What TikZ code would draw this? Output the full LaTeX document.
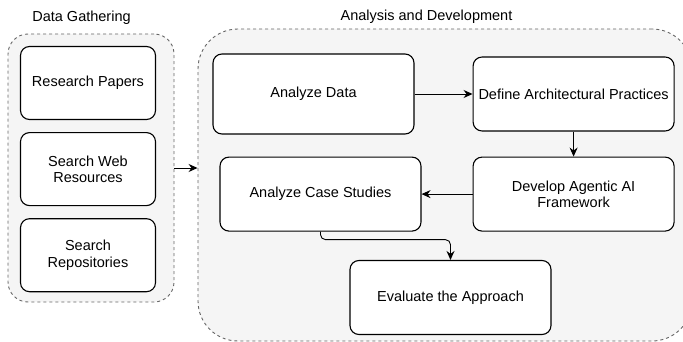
\documentclass[tikz,border=0pt]{standalone}
\usepackage{fontspec}
\setmainfont{Liberation Sans}
\usetikzlibrary{positioning, arrows.meta}
\definecolor{cGroup}{HTML}{F5F5F5}
\definecolor{cDash}{HTML}{666666}
\tikzset{
  stepbox/.style={
    draw=black, line width=1.1pt,
    rounded corners=9pt,
    fill=white,
    align=center,
    inner sep=2pt,
    minimum width=201pt,
    minimum height=74pt,
    font=\fontsize{14.5}{16.5}\selectfont
  },
  srcbox/.style={
    stepbox,
    minimum width=135pt,
    minimum height=73pt
  },
  group/.style={
    draw=cDash, dashed, line width=0.9pt,
    fill=cGroup,
    inner sep=0pt
  },
  grouptitle/.style={
    font=\fontsize{14.5}{16.5}\selectfont
  },
  flow/.style={
    -{Stealth[length=9pt,width=8pt,inset=3pt]},
    line width=0.9pt
  }
}

\begin{document}
\begin{tikzpicture}[x=1pt, y=-1pt, node distance=12pt and 58pt]
  \useasboundingbox (0,0) rectangle (683,342);

  % the two groups
  \node[group, rounded corners=20pt, minimum width=166pt, minimum height=268pt] (gather) at (91,168) {};
  \node[group, rounded corners=40pt, minimum width=494pt, minimum height=312pt] (develop) at (445,185) {};
  \node[grouptitle] (gatherT) at (81.5,18) {Data Gathering};
  \node[grouptitle] (developT) at (426.5,17) {Analysis and Development};

  % data gathering
  \node[srcbox] (papers) at (88,83) {Research Papers};
  \node[srcbox, below=12pt of papers] (web) {Search Web\\Resources};
  \node[srcbox, below=12pt of web] (repos) {Search\\Repositories};

  % analysis and development
  \node[stepbox, minimum height=80pt] (data) at (313.5,94) {Analyze Data};
  \node[stepbox, right=58pt of data] (practices) {Define Architectural Practices};
  \node[stepbox, below=25pt of practices] (framework) {Develop Agentic AI\\Framework};
  \node[stepbox, left=51pt of framework] (cases) {Analyze Case Studies};
  \node[stepbox] (evaluate) at (450.5,297.5) {Evaluate the Approach};

  \draw[flow] (gather.east) -- (gather.east -| develop.west);
  \draw[flow] (data) -- (practices);
  \draw[flow] (practices) -- (framework);
  \draw[flow] (framework) -- (cases);
  \draw[flow, rounded corners=5pt] (cases.south) -- ++(0,8) -| (evaluate.north);
\end{tikzpicture}
\end{document}
